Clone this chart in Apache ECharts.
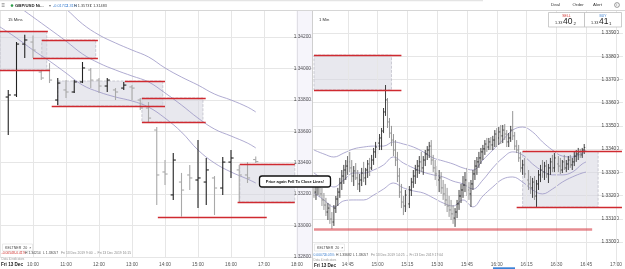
<!DOCTYPE html>
<html>
<head>
<meta charset="utf-8">
<title>GBP/USD 15 Mins / 1 Min</title>
<script src="https://cdn.jsdelivr.net/npm/echarts@6/dist/echarts.min.js"></script>
<style>
  html, body { margin: 0; padding: 0; background: #fff; }
  #main { width: 625px; height: 269px; }
</style>
</head>
<body>
<div id="main"></div>
<script>
// ---- 15 Mins panel (left) ----
const times15 = ['09:15', '09:30', '09:45', '10:00', '10:15', '10:30', '10:45', '11:00', '11:15', '11:30', '11:45',
  '12:00', '12:15', '12:30', '12:45', '13:00', '13:15', '13:30', '13:45', '14:00', '14:15', '14:30', '14:45',
  '15:00', '15:15', '15:30', '15:45', '16:00', '16:15', '16:30', '16:45']
// [open, high, low, close]
const ohlc15 = [
  [1.33818, 1.33863, 1.33576, 1.33831],
  [1.33831, 1.34168, 1.33818, 1.34155],
  [1.34155, 1.34214, 1.34066, 1.34181],
  [1.34168, 1.34210, 1.34066, 1.34117],
  [1.33977, 1.33990, 1.33926, 1.33939],
  [1.33990, 1.34034, 1.33907, 1.33926],
  [1.33799, 1.33939, 1.33767, 1.33907],
  [1.33863, 1.33926, 1.33812, 1.33850],
  [1.33850, 1.33926, 1.33844, 1.33914],
  [1.33914, 1.34041, 1.33907, 1.34003],
  [1.33990, 1.34003, 1.33875, 1.33926],
  [1.33926, 1.33939, 1.33844, 1.33888],
  [1.33888, 1.33939, 1.33850, 1.33926],
  [1.33863, 1.33875, 1.33799, 1.33850],
  [1.33875, 1.33914, 1.33863, 1.33894],
  [1.33882, 1.33894, 1.33799, 1.33875],
  [1.33799, 1.33812, 1.33735, 1.33748],
  [1.33748, 1.33786, 1.33659, 1.33684],
  [1.33608, 1.33627, 1.33131, 1.33322],
  [1.33341, 1.33417, 1.33258, 1.33328],
  [1.33195, 1.33462, 1.33163, 1.33417],
  [1.33277, 1.33335, 1.33057, 1.33226],
  [1.33322, 1.33385, 1.33226, 1.33303],
  [1.33290, 1.33544, 1.33112, 1.33303],
  [1.33277, 1.33430, 1.33131, 1.33354],
  [1.33303, 1.33315, 1.33067, 1.33239],
  [1.33239, 1.33436, 1.33195, 1.33404],
  [1.33404, 1.33481, 1.33303, 1.33430],
  [1.33354, 1.33385, 1.33150, 1.33322],
  [1.33322, 1.33404, 1.33271, 1.33303],
  [1.33420, 1.33440, 1.33398, 1.33407]
]
const keltTimes15 = ['09:00', '09:30', '10:00', '10:30', '11:00', '11:30', '12:00', '12:30', '13:00', '13:30',
  '14:00', '14:30', '15:00', '15:30', '16:00', '16:30', '16:45']
const keltUp15 = [1.34690, 1.34613, 1.34537, 1.34454, 1.34378, 1.34283, 1.34213, 1.34162, 1.34117, 1.34073,
  1.34003, 1.33945, 1.33894, 1.33837, 1.33799, 1.33754, 1.33723]
const keltMid15 = [1.34480, 1.34403, 1.34327, 1.34251, 1.34174, 1.34092, 1.34034, 1.33990, 1.33952, 1.33914,
  1.33844, 1.33767, 1.33684, 1.33614, 1.33570, 1.33525, 1.33494]
const keltLow15 = [1.34264, 1.34194, 1.34117, 1.34047, 1.33971, 1.33894, 1.33850, 1.33818, 1.33793, 1.33754,
  1.33684, 1.33595, 1.33481, 1.33398, 1.33341, 1.33296, 1.33271]
// zones [from, to, top, bottom] and red levels [price, from, to]
const zones15 = [
  ['09:00', '10:25', 1.34234, 1.33990],
  ['10:16', '11:54', 1.34181, 1.34066],
  ['10:45', '13:56', 1.33920, 1.33761],
  ['13:18', '15:09', 1.33812, 1.33659],
  ['16:16', '17:56', 1.33390, 1.33150]
]
const levels15 = [
  [1.34234, '09:00', '10:27'], [1.33990, '09:00', '10:31'],
  [1.34181, '10:16', '11:58'], [1.34066, '10:00', '11:58'],
  [1.33920, '12:47', '14:00'], [1.33761, '10:34', '14:00'],
  [1.33812, '13:18', '15:14'], [1.33659, '13:18', '15:14'],
  [1.33056, '13:47', '17:05'],
  [1.33390, '16:16', '17:56'], [1.33150, '16:12', '17:56']
]

// ---- 1 Min panel (right) ----
const start1m = '14:28'
const ohlc1m = [
  [1.33245, 1.33267, 1.33190, 1.33215], [1.33215, 1.33254, 1.33181, 1.33241], [1.33241, 1.33276, 1.33202, 1.33258],
  [1.33258, 1.33284, 1.33194, 1.33207], [1.33207, 1.33233, 1.33155, 1.33181], [1.33181, 1.33211, 1.33138, 1.33159],
  [1.33159, 1.33190, 1.33112, 1.33129], [1.33129, 1.33168, 1.33095, 1.33146], [1.33146, 1.33164, 1.33078, 1.33099],
  [1.33099, 1.33129, 1.33056, 1.33086], [1.33086, 1.33159, 1.33069, 1.33146], [1.33146, 1.33198, 1.33125, 1.33185],
  [1.33185, 1.33233, 1.33155, 1.33215], [1.33215, 1.33276, 1.33190, 1.33254], [1.33254, 1.33310, 1.33224, 1.33284],
  [1.33284, 1.33332, 1.33250, 1.33310], [1.33310, 1.33353, 1.33267, 1.33327], [1.33327, 1.33370, 1.33289, 1.33345],
  [1.33345, 1.33388, 1.33301, 1.33319], [1.33319, 1.33353, 1.33258, 1.33284], [1.33284, 1.33327, 1.33241, 1.33306],
  [1.33306, 1.33340, 1.33267, 1.33276], [1.33276, 1.33310, 1.33224, 1.33250], [1.33250, 1.33293, 1.33215, 1.33267],
  [1.33267, 1.33319, 1.33241, 1.33297], [1.33297, 1.33345, 1.33258, 1.33276], [1.33276, 1.33319, 1.33245, 1.33310],
  [1.33310, 1.33353, 1.33276, 1.33336], [1.33336, 1.33362, 1.33284, 1.33319], [1.33319, 1.33375, 1.33310, 1.33353],
  [1.33353, 1.33405, 1.33332, 1.33388], [1.33388, 1.33431, 1.33362, 1.33409], [1.33409, 1.33448, 1.33379, 1.33426],
  [1.33426, 1.33465, 1.33396, 1.33448], [1.33448, 1.33491, 1.33396, 1.33478], [1.33478, 1.33577, 1.33469, 1.33560],
  [1.33560, 1.33676, 1.33543, 1.33612], [1.33612, 1.33620, 1.33491, 1.33517], [1.33517, 1.33534, 1.33448, 1.33469],
  [1.33469, 1.33500, 1.33413, 1.33439], [1.33439, 1.33465, 1.33370, 1.33396], [1.33396, 1.33439, 1.33327, 1.33353],
  [1.33353, 1.33388, 1.33258, 1.33284], [1.33284, 1.33319, 1.33190, 1.33215], [1.33215, 1.33250, 1.33146, 1.33172],
  [1.33172, 1.33198, 1.33116, 1.33155], [1.33155, 1.33224, 1.33129, 1.33202], [1.33202, 1.33233, 1.33138, 1.33164],
  [1.33164, 1.33241, 1.33146, 1.33224], [1.33224, 1.33276, 1.33198, 1.33258], [1.33258, 1.33310, 1.33233, 1.33284],
  [1.33284, 1.33332, 1.33250, 1.33310], [1.33310, 1.33353, 1.33276, 1.33327], [1.33327, 1.33370, 1.33293, 1.33345],
  [1.33345, 1.33388, 1.33301, 1.33319], [1.33319, 1.33370, 1.33289, 1.33353], [1.33353, 1.33396, 1.33327, 1.33379],
  [1.33379, 1.33413, 1.33353, 1.33396], [1.33396, 1.33431, 1.33362, 1.33413], [1.33413, 1.33439, 1.33332, 1.33353],
  [1.33353, 1.33375, 1.33301, 1.33319], [1.33319, 1.33353, 1.33267, 1.33293], [1.33293, 1.33327, 1.33241, 1.33267],
  [1.33267, 1.33310, 1.33215, 1.33276], [1.33276, 1.33301, 1.33207, 1.33233], [1.33233, 1.33267, 1.33181, 1.33207],
  [1.33207, 1.33250, 1.33155, 1.33181], [1.33181, 1.33233, 1.33129, 1.33155], [1.33155, 1.33198, 1.33108, 1.33138],
  [1.33138, 1.33181, 1.33095, 1.33121], [1.33121, 1.33159, 1.33078, 1.33103], [1.33103, 1.33146, 1.33065, 1.33129],
  [1.33129, 1.33181, 1.33103, 1.33164], [1.33164, 1.33224, 1.33138, 1.33198], [1.33198, 1.33250, 1.33168, 1.33224],
  [1.33224, 1.33284, 1.33190, 1.33245], [1.33245, 1.33301, 1.33215, 1.33267], [1.33267, 1.33319, 1.33198, 1.33224],
  [1.33224, 1.33258, 1.33181, 1.33207], [1.33207, 1.33267, 1.33151, 1.33250], [1.33250, 1.33310, 1.33224, 1.33293],
  [1.33293, 1.33353, 1.33267, 1.33327], [1.33327, 1.33366, 1.33289, 1.33345], [1.33345, 1.33388, 1.33319, 1.33362],
  [1.33362, 1.33405, 1.33336, 1.33388], [1.33388, 1.33418, 1.33353, 1.33401], [1.33401, 1.33439, 1.33375, 1.33422],
  [1.33422, 1.33448, 1.33388, 1.33409], [1.33409, 1.33448, 1.33396, 1.33431], [1.33431, 1.33452, 1.33396, 1.33418],
  [1.33418, 1.33457, 1.33396, 1.33439], [1.33439, 1.33482, 1.33409, 1.33465], [1.33465, 1.33491, 1.33409, 1.33448],
  [1.33448, 1.33495, 1.33418, 1.33474], [1.33474, 1.33504, 1.33422, 1.33457], [1.33457, 1.33504, 1.33426, 1.33482],
  [1.33482, 1.33508, 1.33439, 1.33465], [1.33465, 1.33482, 1.33409, 1.33431], [1.33431, 1.33469, 1.33409, 1.33448],
  [1.33448, 1.33500, 1.33431, 1.33482], [1.33482, 1.33564, 1.33439, 1.33457], [1.33457, 1.33474, 1.33396, 1.33413],
  [1.33413, 1.33439, 1.33383, 1.33396], [1.33396, 1.33418, 1.33345, 1.33362], [1.33362, 1.33388, 1.33301, 1.33319],
  [1.33319, 1.33353, 1.33289, 1.33332], [1.33332, 1.33362, 1.33276, 1.33293], [1.33293, 1.33327, 1.33241, 1.33267],
  [1.33267, 1.33310, 1.33224, 1.33250], [1.33250, 1.33284, 1.33207, 1.33233], [1.33233, 1.33276, 1.33190, 1.33258],
  [1.33258, 1.33284, 1.33181, 1.33198], [1.33198, 1.33267, 1.33151, 1.33250], [1.33250, 1.33310, 1.33224, 1.33289],
  [1.33289, 1.33332, 1.33258, 1.33310], [1.33310, 1.33353, 1.33276, 1.33301], [1.33301, 1.33345, 1.33267, 1.33327],
  [1.33327, 1.33353, 1.33276, 1.33293], [1.33293, 1.33336, 1.33254, 1.33319], [1.33319, 1.33362, 1.33289, 1.33345],
  [1.33345, 1.33375, 1.33301, 1.33319], [1.33319, 1.33383, 1.33301, 1.33362], [1.33362, 1.33388, 1.33319, 1.33336],
  [1.33336, 1.33370, 1.33301, 1.33327], [1.33327, 1.33362, 1.33293, 1.33310], [1.33310, 1.33353, 1.33297, 1.33345],
  [1.33345, 1.33375, 1.33310, 1.33319], [1.33319, 1.33353, 1.33301, 1.33336], [1.33336, 1.33370, 1.33310, 1.33353],
  [1.33353, 1.33375, 1.33319, 1.33332], [1.33332, 1.33362, 1.33310, 1.33345], [1.33345, 1.33388, 1.33327, 1.33370],
  [1.33370, 1.33396, 1.33345, 1.33379], [1.33379, 1.33405, 1.33353, 1.33388], [1.33388, 1.33401, 1.33362, 1.33375],
  [1.33375, 1.33405, 1.33362, 1.33396], [1.33396, 1.33422, 1.33379, 1.33407]
]
const keltTimes1m = ['14:28', '14:33', '14:38', '14:43', '14:48', '14:53', '14:58', '15:03', '15:08', '15:13',
  '15:18', '15:23', '15:28', '15:33', '15:38', '15:43', '15:48', '15:53', '15:58', '16:03', '16:08', '16:13',
  '16:18', '16:23', '16:28', '16:33', '16:38', '16:43', '16:45']
const keltUp1m = [1.33396, 1.33379, 1.33366, 1.33383, 1.33401, 1.33409, 1.33413, 1.33413, 1.33431, 1.33422,
  1.33409, 1.33388, 1.33362, 1.33349, 1.33336, 1.33319, 1.33310, 1.33353, 1.33396, 1.33439, 1.33482, 1.33495,
  1.33474, 1.33431, 1.33396, 1.33370, 1.33366, 1.33383, 1.33396]
const keltMid1m = [1.33297, 1.33267, 1.33237, 1.33267, 1.33297, 1.33297, 1.33310, 1.33332, 1.33366, 1.33340,
  1.33319, 1.33301, 1.33289, 1.33280, 1.33262, 1.33250, 1.33228, 1.33267, 1.33319, 1.33362, 1.33388, 1.33375,
  1.33336, 1.33306, 1.33289, 1.33289, 1.33301, 1.33336, 1.33345]
const keltLow1m = [1.33211, 1.33181, 1.33151, 1.33177, 1.33181, 1.33181, 1.33202, 1.33228, 1.33254, 1.33233,
  1.33220, 1.33211, 1.33190, 1.33168, 1.33155, 1.33181, 1.33151, 1.33198, 1.33237, 1.33271, 1.33280, 1.33258,
  1.33224, 1.33207, 1.33228, 1.33258, 1.33280, 1.33297, 1.33301]
const zones1m = [
  ['14:28', '15:07', 1.33805, 1.33655],
  ['16:13', '16:51', 1.33390, 1.33150]
]
const levels1m = [
  [1.33805, '14:28', '15:12'], [1.33655, '14:28', '15:12'],
  [1.33390, '16:13', '17:03'], [1.33150, '16:10', '17:03']
]
const support1m = [1.33056, '14:28', '16:48']
const xTicks1m = ['14:45', '15:00', '15:15', '15:30', '15:45', '16:00', '16:15', '16:30', '16:45', '17:00']

const lastPrice = 1.33407

// ---- helpers ----
const toMin = s => { const p = s.split(':').map(Number); return p[0] * 60 + p[1] }
const fmt = v => String(Math.floor(v / 60)).padStart(2, '0') + ':' + String(Math.round(v % 60)).padStart(2, '0')

const RED = '#cf2a30'
const KELT = '#9a95c5'
const GRID = '#e6e6e6'
const FONT = 'Liberation Sans, Arial, sans-serif'

function ohlcRender (tick, lw, up, down) {
  return function (params, api) {
    const t = api.value(0)
    const o = api.coord([t, api.value(1)])
    const h = api.coord([t, api.value(2)])
    const l = api.coord([t, api.value(3)])
    const c = api.coord([t, api.value(4)])
    const style = { stroke: api.value(4) >= api.value(1) ? up : down, lineWidth: lw }
    return {
      type: 'group',
      children: [
        { type: 'line', shape: { x1: h[0], y1: h[1], x2: l[0], y2: l[1] }, style },
        { type: 'line', shape: { x1: o[0] - tick, y1: o[1], x2: o[0], y2: o[1] }, style },
        { type: 'line', shape: { x1: c[0], y1: c[1], x2: c[0] + tick, y2: c[1] }, style }
      ]
    }
  }
}

function keltnerSeries (ai, times, up, mid, low) {
  const xs = times.map(toMin)
  const base = { type: 'line', xAxisIndex: ai, yAxisIndex: ai, smooth: 0.4, symbol: 'none', silent: true, animation: false }
  return [
    { ...base, stack: 'band' + ai, data: xs.map((x, i) => [x, low[i]]), lineStyle: { opacity: 0 }, z: 1 },
    { ...base, stack: 'band' + ai, data: xs.map((x, i) => [x, up[i] - low[i]]), lineStyle: { opacity: 0 },
      areaStyle: { color: 'rgba(196,192,230,0.22)', origin: 'start' }, z: 1 },
    { ...base, data: xs.map((x, i) => [x, up[i]]), lineStyle: { color: KELT, width: 0.8 }, z: 2 },
    { ...base, data: xs.map((x, i) => [x, mid[i]]), lineStyle: { color: KELT, width: 0.8 }, z: 2 },
    { ...base, data: xs.map((x, i) => [x, low[i]]), lineStyle: { color: KELT, width: 0.8 }, z: 2 }
  ]
}

function zoneSeries (ai, zones) {
  return {
    type: 'line', xAxisIndex: ai, yAxisIndex: ai, data: [], silent: true, z: 1,
    markArea: {
      silent: true,
      itemStyle: { color: 'rgba(214,214,224,0.55)', borderColor: '#b9b9c4', borderWidth: 0.7, borderType: 'dashed' },
      data: zones.map(z => [{ coord: [toMin(z[0]), z[2]] }, { coord: [toMin(z[1]), z[3]] }])
    }
  }
}

function levelSeries (ai, levels, style) {
  return {
    type: 'line', xAxisIndex: ai, yAxisIndex: ai, data: [], silent: true, z: 4,
    markLine: {
      silent: true, symbol: 'none', animation: false, label: { show: false },
      lineStyle: style,
      data: levels.map(l => [{ coord: [toMin(l[1]), l[0]] }, { coord: [toMin(l[2]), l[0]] }])
    }
  }
}

function priceTag (ai, from, to) {
  return {
    type: 'line', xAxisIndex: ai, yAxisIndex: ai, data: [], silent: true, z: 6,
    markLine: {
      silent: true, symbol: 'none', animation: false,
      lineStyle: { opacity: 0 },
      label: {
        show: true, position: 'end', distance: 1, formatter: lastPrice.toFixed(5),
        backgroundColor: '#2c4263', color: '#fff', fontSize: 4.6, padding: [2, 2, 1.5, 2], fontFamily: FONT
      },
      data: [[{ coord: [toMin(from), lastPrice] }, { coord: [toMin(to), lastPrice] }]]
    }
  }
}

const txt = (x, y, text, size, color, extra) => ({
  type: 'text', x, y, z: 60,
  style: Object.assign({ text, fontSize: size, fill: color, fontFamily: FONT, verticalAlign: 'middle' }, extra || {})
})

const graphics = [
  { type: 'rect', z: 50, shape: { x: 0, y: 0, width: 625, height: 10.5 }, style: { fill: '#fff' } },
  { type: 'rect', z: 51, shape: { x: 0, y: 0, width: 483, height: 1.3 }, style: { fill: '#e4e4e4' } },
  { type: 'line', z: 51, shape: { x1: 0, y1: 10.5, x2: 625, y2: 10.5 }, style: { stroke: '#d6d6d6', lineWidth: 1 } },
  { type: 'line', z: 51, shape: { x1: 312.5, y1: 10.5, x2: 312.5, y2: 269 }, style: { stroke: '#cfcfcf', lineWidth: 1 } },
  txt(1.5, 5.6, '≡', 6, '#666'),
  { type: 'circle', z: 60, shape: { cx: 12, cy: 5.6, r: 1.3 }, style: { fill: '#2e9d4a' } },
  txt(15, 5.6, 'GBP/USD Ni...', 4.3, '#222', { fontWeight: 'bold' }),
  txt(48.5, 5.6, '▾', 4, '#777'),
  txt(53, 5.6, '-0.01772', 3.8, '#3b7fd0'),
  txt(65, 5.6, '-1.31%', 3.8, '#3b7fd0'),
  txt(74, 5.6, 'H 1.35737', 3.8, '#444'),
  txt(90, 5.6, 'L 1.31483', 3.8, '#444'),
  txt(551, 5.2, 'Deal', 4.4, '#333'),
  txt(572.5, 5.2, 'Order', 4.4, '#333'),
  txt(593, 5.2, 'Alert', 4.4, '#333'),
  { type: 'circle', z: 60, shape: { cx: 617, cy: 5, r: 2.4 }, style: { fill: '#fff', stroke: '#555', lineWidth: 0.6 } },
  txt(617, 5.1, 'i', 3.6, '#555', { align: 'center' }),
  txt(8, 20, '15 Mins', 4.2, '#333'),
  txt(319, 20, '1 Min', 4.2, '#333'),
  { type: 'rect', z: 59, shape: { x: 548.5, y: 12.5, width: 36, height: 14.5 }, style: { fill: '#fff', stroke: '#b8b8b8', lineWidth: 0.7 } },
  { type: 'rect', z: 59, shape: { x: 584.5, y: 12.5, width: 37, height: 14.5 }, style: { fill: '#fff', stroke: '#b8b8b8', lineWidth: 0.7 } },
  txt(566.5, 15.6, 'SELL', 3.4, '#d0312d', { align: 'center' }),
  txt(555, 22.5, '1.33', 3.8, '#333'),
  txt(563, 21.8, '40', 8.5, '#222'),
  txt(573.5, 23.5, '2', 4.4, '#222'),
  txt(603, 15.6, 'BUY', 3.4, '#3b7fd0', { align: 'center' }),
  txt(591, 22.5, '1.33', 3.8, '#333'),
  txt(599, 21.8, '41', 8.5, '#222'),
  txt(609, 23.5, '1', 4.4, '#222'),
  // annotation
  { type: 'rect', z: 70, shape: { x: 259.5, y: 176, width: 71, height: 11, r: 2.5 }, style: { fill: '#fff', stroke: '#111', lineWidth: 1.3 } },
  { type: 'text', z: 71, x: 295, y: 181.6, style: { text: 'Price again Fell To Close Lines!', fontSize: 3.9, fontWeight: 'bold', fill: '#111', fontFamily: FONT, align: 'center', verticalAlign: 'middle' } },
  // indicator legends
  { type: 'rect', z: 59, shape: { x: 2.5, y: 244, width: 30, height: 7 }, style: { fill: '#fff', stroke: '#ddd', lineWidth: 0.6 } },
  txt(5, 247.5, 'KELTNER  20  ×', 3.6, '#444'),
  txt(1.5, 253.5, '-0.00548', 3.4, '#d0312d'),
  txt(15, 253.5, '-0.41%', 3.4, '#d0312d'),
  txt(25, 253.5, 'H 1.34214', 3.4, '#444'),
  txt(43, 253.5, 'L 1.33057', 3.4, '#444'),
  txt(61, 253.5, 'Fri 13 Dec 2019 9:00  -  Fri 13 Dec 2019 16:15', 3.4, '#888'),
  txt(1.5, 259.3, 'Data & indicators', 3, '#9a9a9a'),
  txt(1, 265, 'Fri 13 Dec', 4.6, '#222', { fontWeight: 'bold' }),
  { type: 'rect', z: 59, shape: { x: 314.5, y: 244, width: 30, height: 7 }, style: { fill: '#fff', stroke: '#ddd', lineWidth: 0.6 } },
  txt(317, 247.5, 'KELTNER  20  ×', 3.6, '#444'),
  txt(313.5, 255, '0.00072', 3.4, '#3b7fd0'),
  txt(325, 255, '0.05%', 3.4, '#3b7fd0'),
  txt(336, 255, 'H 1.33682', 3.4, '#444'),
  txt(353, 255, 'L 1.33057', 3.4, '#444'),
  txt(371, 255, 'Fri 13 Dec 2019 14:25  -  Fri 13 Dec 2019 17:04', 3.4, '#888'),
  txt(313.5, 260, 'Data & indicators', 3, '#9a9a9a'),
  txt(314, 265.5, 'Fri 13 Dec', 4.6, '#222', { fontWeight: 'bold' }),
  { type: 'rect', z: 59, shape: { x: 493, y: 267.3, width: 22, height: 1.7 }, style: { fill: '#3b82d6' } }
]

const myChart = echarts.init(document.getElementById('main'), null, { renderer: 'canvas' })

const x1mMin = 867.5
const option = {
  animation: false,
  backgroundColor: '#fff',
  textStyle: { fontFamily: FONT },
  grid: [
    { left: 0, top: 5.57, width: 312, height: 251.43 },
    { left: 313, top: 9.8, width: 312, height: 255.4 }
  ],
  xAxis: [
    {
      gridIndex: 0, type: 'value', min: 540, max: 540 + 312 / 0.55, interval: 60,
      axisLine: { show: false }, axisTick: { show: false },
      axisLabel: { fontSize: 4.8, color: '#555', margin: 5, showMaxLabel: false, showMinLabel: false, formatter: v => fmt(v) },
      splitLine: { show: true, lineStyle: { color: GRID, width: 1 } }
    },
    {
      gridIndex: 1, type: 'value', min: x1mMin, max: x1mMin + 156, offset: -8,
      axisLine: { show: false }, axisTick: { show: false },
      axisLabel: { fontSize: 4.8, color: '#555', margin: 5, customValues: xTicks1m.map(toMin), formatter: v => fmt(v) },
      splitLine: { show: false }
    }
  ],
  yAxis: [
    {
      gridIndex: 0, type: 'value', position: 'right', min: 1.328, max: 1.344, interval: 0.002,
      axisLine: { show: false }, axisTick: { show: false },
      axisLabel: { inside: true, fontSize: 4.8, color: '#444', margin: 1, formatter: v => v.toFixed(5) },
      splitLine: { lineStyle: { color: GRID, width: 1 } }
    },
    {
      gridIndex: 1, type: 'value', position: 'right', min: 1.329, max: 1.340, interval: 0.001,
      axisLine: { show: false }, axisTick: { show: false },
      axisLabel: { inside: true, fontSize: 4.8, color: '#444', margin: 4, showMinLabel: false, formatter: v => v.toFixed(5) },
      splitLine: { showMinLine: false, lineStyle: { color: GRID, width: 1 } }
    }
  ],
  graphic: graphics,
  series: [
    // vertical grid lines of the 1 min panel
    {
      type: 'line', xAxisIndex: 1, yAxisIndex: 1, data: [], silent: true, z: 0,
      markLine: {
        silent: true, symbol: 'none', label: { show: false }, animation: false,
        lineStyle: { color: GRID, width: 1, type: 'solid' },
        data: xTicks1m.map(t => ({ xAxis: toMin(t) }))
      }
    },
    zoneSeries(0, zones15),
    zoneSeries(1, zones1m),
    ...keltnerSeries(0, keltTimes15, keltUp15, keltMid15, keltLow15),
    ...keltnerSeries(1, keltTimes1m, keltUp1m, keltMid1m, keltLow1m),
    {
      type: 'custom', name: 'GBP/USD 15 Mins', xAxisIndex: 0, yAxisIndex: 0, z: 3,
      renderItem: ohlcRender(2.6, 1.1, '#222', '#a9a9a9'),
      encode: { x: 0, y: [1, 2, 3, 4] },
      data: times15.map((t, i) => [toMin(t)].concat(ohlc15[i]))
    },
    {
      type: 'custom', name: 'GBP/USD 1 Min', xAxisIndex: 1, yAxisIndex: 1, z: 3,
      renderItem: ohlcRender(1, 0.9, '#2a2a2a', '#8a8a8a'),
      encode: { x: 0, y: [1, 2, 3, 4] },
      data: ohlc1m.map((b, i) => [toMin(start1m) + i].concat(b))
    },
    levelSeries(0, levels15, { color: RED, width: 1.4, type: 'solid' }),
    levelSeries(1, levels1m, { color: RED, width: 1.4, type: 'solid' }),
    levelSeries(1, [support1m], { color: 'rgba(214,64,72,0.6)', width: 2.6, type: 'solid' }),
    priceTag(0, '16:45', '17:47'),
    priceTag(1, '16:44', '16:51')
  ]
}

myChart.setOption(option)
window.onresize = () => myChart.resize()
</script>
</body>
</html>
